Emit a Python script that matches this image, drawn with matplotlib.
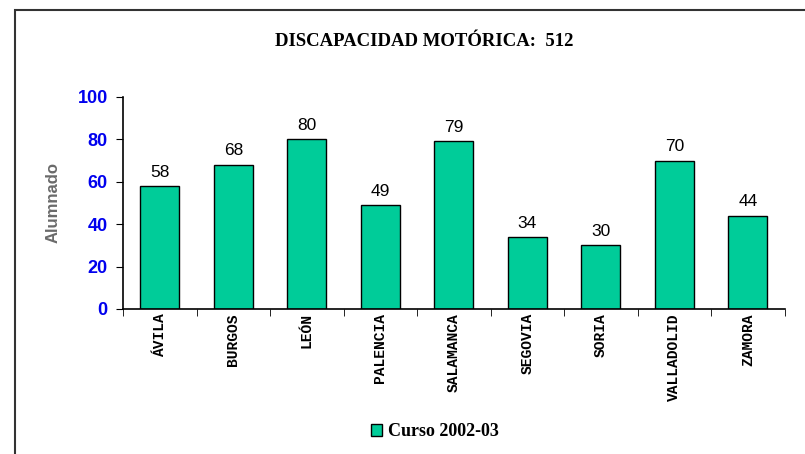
import numpy as np
import matplotlib
matplotlib.use("Agg")
import matplotlib.pyplot as plt
from matplotlib.patches import Rectangle

provincias = ["ÁVILA", "BURGOS", "LEÓN", "PALENCIA", "SALAMANCA",
              "SEGOVIA", "SORIA", "VALLADOLID", "ZAMORA"]
alumnado = [58, 68, 80, 49, 79, 34, 30, 70, 44]
yticks = [0, 20, 40, 60, 80, 100]

fig = plt.figure(figsize=(8.05, 4.54), dpi=100)
ax = fig.add_axes([0.1528, 0.3194, 0.822, 0.467])

# marco exterior (solo se ven los bordes superior e izquierdo)
fig.patches.append(Rectangle((15 / 805, -0.2), 1.2, 1 - 10 / 454 + 0.2,
                             transform=fig.transFigure, fill=False,
                             edgecolor="#333333", linewidth=1.5))

x = np.arange(len(provincias))
bars = ax.bar(x, alumnado, width=0.53, color="#00CC99", edgecolor="black",
              linewidth=1.0, label="Curso 2002-03")
for xi, v in zip(x, alumnado):
    ax.text(xi, v + 3, str(v), ha="center", va="bottom",
            fontsize=12.5, family="Liberation Sans")

ax.set_xlim(-0.5, len(provincias) - 0.5)
ax.set_ylim(0, 100)
ax.set_yticks(yticks)
ax.set_yticklabels([str(t) for t in yticks], color="#0000EE",
                   fontweight="bold", fontsize=13, family="Liberation Sans")
ax.set_xticks(x)
ax.set_xticklabels(provincias, rotation=90, family="Liberation Mono",
                   fontweight="bold", fontsize=10.5, va="top")
ax.set_xticks(np.arange(len(provincias) + 1) - 0.5, minor=True)
ax.tick_params(axis="x", which="major", length=0, pad=3)
ax.tick_params(axis="x", which="minor", length=5, direction="out")
ax.tick_params(axis="y", length=5, direction="out", pad=6)
ax.spines["top"].set_visible(False)
ax.spines["right"].set_visible(False)
for s in ("left", "bottom"):
    ax.spines[s].set_linewidth(1.2)

ax.set_ylabel("Alumnado", fontsize=12, fontweight="bold", color="#6a6a6a",
              family="Liberation Sans", labelpad=12)

fig.text(0.527, 1 - 42 / 454, "DISCAPACIDAD MOTÓRICA:  512", ha="center",
         va="center", fontsize=13.5, fontweight="bold", family="Liberation Serif")

fig.legend(handles=[bars], loc="center", bbox_to_anchor=(0.54, 1 - 432 / 454),
           frameon=False, prop={"family": "Liberation Serif", "weight": "bold",
                                "size": 13},
           handlelength=0.65, handleheight=0.65, handletextpad=0.3)

fig.savefig("out.png", dpi=100)
